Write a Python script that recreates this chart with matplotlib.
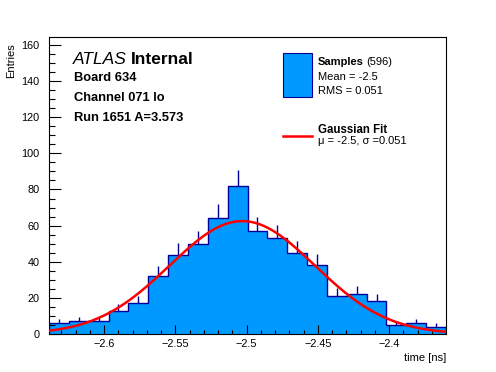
import numpy as np
import matplotlib
matplotlib.use("Agg")
import matplotlib.pyplot as plt
from matplotlib.patches import Rectangle
from matplotlib.lines import Line2D

plt.rcParams['font.family'] = ['Liberation Sans', 'DejaVu Sans']

# Histogram data (20 bins)
x_min, x_max = -2.6386, -2.3600
counts = [6, 7, 7, 13, 17, 32, 44, 50, 64, 82,
          57, 53, 45, 38, 21, 22, 18, 5, 6, 4]
edges = np.linspace(x_min, x_max, len(counts) + 1)

# Gaussian fit parameters
fit_amp = 62.5
fit_mu = -2.503
fit_sigma = 0.051

W, H = 496, 372
fig = plt.figure(figsize=(W / 100, H / 100), dpi=100)
ax = fig.add_axes([49 / W, 1 - 334 / H, (446 - 49) / W, (334 - 37) / H])

fill_c = '#0099ff'
edge_c = '#000099'

counts = np.array(counts, dtype=float)
ax.stairs(counts, edges, fill=True, color=fill_c, zorder=1)
ax.stairs(counts, edges, color=edge_c, linewidth=1.0, zorder=2)
centers = 0.5 * (edges[:-1] + edges[1:])
ax.vlines(centers, counts, counts + np.sqrt(counts), color=edge_c, linewidth=1.0, zorder=2)

xf = np.linspace(x_min, x_max, 300)
yf = fit_amp * np.exp(-0.5 * ((xf - fit_mu) / fit_sigma) ** 2)
ax.plot(xf, yf, color='#ff0000', linewidth=1.8, zorder=3)

ax.set_xlim(x_min, x_max)
ax.set_ylim(0, 164.4)
ax.set_xticks([-2.6, -2.55, -2.5, -2.45, -2.4])
ax.set_xticklabels(['\u22122.6', '\u22122.55', '\u22122.5', '\u22122.45', '\u22122.4'])
ax.set_xticks(np.arange(-2.63, -2.36, 0.01), minor=True)
ax.set_yticks(np.arange(0, 161, 20))
ax.set_yticks(np.arange(0, 165, 5), minor=True)
ax.tick_params(axis='x', which='major', direction='in', length=6.5, width=0.8, pad=3.5, labelsize=7.8)
ax.tick_params(axis='x', which='minor', direction='in', length=3.2, width=0.8)
ax.tick_params(axis='y', which='major', direction='in', length=8.6, width=0.8, pad=7, labelsize=7.8)
ax.tick_params(axis='y', which='minor', direction='in', length=4.3, width=0.8)
for s in ax.spines.values():
    s.set_linewidth(0.8)

def fx(px):
    return px / W

def fy(py):
    return 1 - py / H

# axis titles
fig.text(fx(446), fy(361), 'time [ns]', ha='right', va='baseline', fontsize=8)
fig.text(fx(16), fy(43), 'Entries', ha='right', va='top', rotation=90, fontsize=8)

# ATLAS label block
t = fig.text(fx(73), fy(64), 'ATLAS', fontsize=12.5, style='italic', va='baseline')
fig.canvas.draw()
bb = t.get_window_extent()
fig.text(bb.x1 / W + 4 / W, fy(64), 'Internal', fontsize=12.5, weight='bold', va='baseline')
fig.text(fx(74), fy(81), 'Board 634', fontsize=9.3, weight='bold', va='baseline')
fig.text(fx(74), fy(101), 'Channel 071 lo', fontsize=9.3, weight='bold', va='baseline')
fig.text(fx(74), fy(121), 'Run 1651 A=3.573', fontsize=9.3, weight='bold', va='baseline')

# legend
fig.patches.append(Rectangle((fx(283), fy(97)), 29 / W, 44 / H, transform=fig.transFigure,
                             facecolor=fill_c, edgecolor=edge_c, linewidth=0.8))
s = fig.text(fx(318), fy(65), 'Samples', fontsize=8, weight='bold', va='baseline')
fig.canvas.draw()
bb = s.get_window_extent()
fig.text(bb.x1 / W + 2 / W, fy(65), '(596)', fontsize=8, va='baseline')
fig.text(fx(318), fy(79.5), 'Mean = -2.5', fontsize=8, va='baseline')
fig.text(fx(318), fy(93.5), 'RMS = 0.051', fontsize=8, va='baseline')
fig.lines.append(Line2D([fx(283), fx(312)], [fy(136), fy(136)], transform=fig.transFigure,
                        color='#ff0000', linewidth=1.8))
fig.text(fx(318), fy(133), 'Gaussian Fit', fontsize=8.3, weight='bold', va='baseline')
fig.text(fx(318), fy(144.5), '\u03bc = -2.5, \u03c3 =0.051', fontsize=8, va='baseline')

fig.savefig('out.png', dpi=100)
